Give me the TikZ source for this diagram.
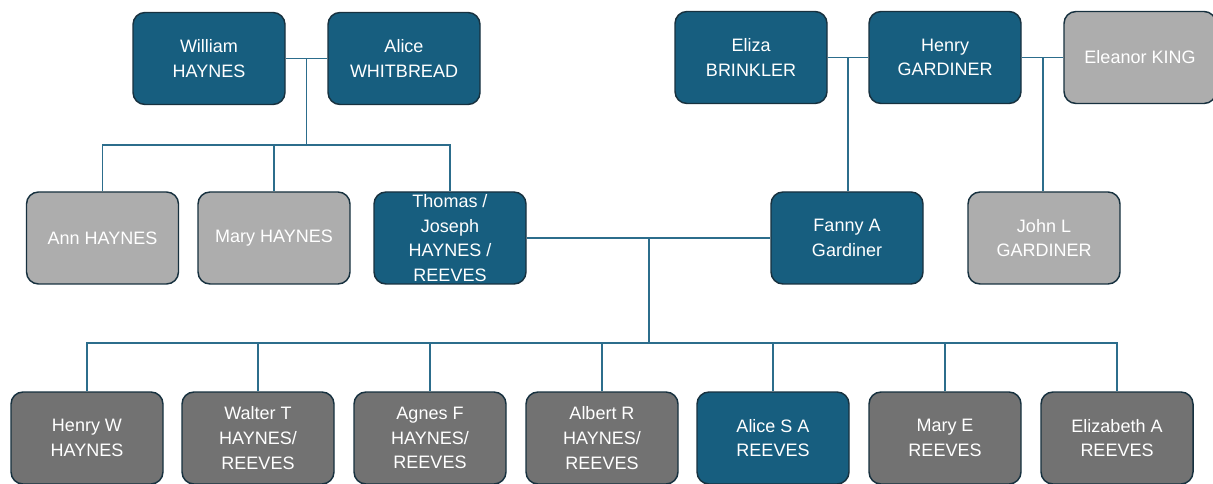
\documentclass[tikz,border=0pt]{standalone}
\usepackage{fontspec}
\setmainfont{Liberation Sans}
\definecolor{famblue}{HTML}{175E7F}
\definecolor{famlight}{HTML}{ADADAD}
\definecolor{famdark}{HTML}{727272}
\definecolor{famedge}{HTML}{17313F}
\definecolor{famline}{HTML}{2C6D8C}
\begin{document}
\begin{tikzpicture}[x=0.75pt,y=-0.75pt,
  person/.style={draw=famedge,line width=1.1pt,rounded corners=9pt,
    minimum width=114pt,minimum height=69pt,inner sep=0pt,align=center,
    text=white,font=\fontsize{13.5}{18.5}\selectfont},
  main/.style={person,fill=famblue},
  other/.style={person,fill=famlight},
  child/.style={person,fill=famdark},
  link/.style={draw=famline,line width=1.3pt}]
  \useasboundingbox (0,0) rectangle (1213,484);
  % parents
  \node[main] (william) at (209,58.5) {William\\HAYNES};
  \node[main] (alice) at (404,58.5) {Alice\\WHITBREAD};
  \node[main] (eliza) at (751,57.5) {Eliza\\BRINKLER};
  \node[main] (henry) at (945,57.5) {Henry\\GARDINER};
  \node[other] (eleanor) at (1140,57.5) {Eleanor KING};
  % middle row
  \node[other] (ann) at (102.5,238) {Ann HAYNES};
  \node[other] (mary) at (274,238) {Mary HAYNES};
  \node[main] (thomas) at (450,238) {Thomas /\\Joseph\\HAYNES /\\REEVES};
  \node[main] (fanny) at (847,238) {Fanny A\\Gardiner};
  \node[other] (john) at (1044,238) {John L\\GARDINER};
  % children
  \node[child] (henryw) at (87,438) {Henry W\\HAYNES};
  \node[child] (walter) at (258,438) {Walter T\\HAYNES/\\REEVES};
  \node[child] (agnes) at (430,438) {Agnes F\\HAYNES/\\REEVES};
  \node[child] (albert) at (602,438) {Albert R\\HAYNES/\\REEVES};
  \node[main] (alicesa) at (773,438) {Alice S A\\REEVES};
  \node[child] (marye) at (945,438) {Mary E\\REEVES};
  \node[child] (elizabeth) at (1117,438) {Elizabeth A\\REEVES};
  % marriages
  \coordinate (wa) at (306.5,58.5);
  \coordinate (wabus) at (306.5,145);
  \coordinate (eh) at (848,57.5);
  \coordinate (he) at (1043,57.5);
  \coordinate (tf) at (649,238);
  \coordinate (tfbus) at (649,343);
  \draw[link] (william) -- (alice);
  \draw[link] (eliza) -- (henry);
  \draw[link] (henry) -- (eleanor);
  \draw[link] (thomas) -- (fanny);
  % descent
  \draw[link] (wa) -- (wabus);
  \draw[link] (ann.north) |- (wabus) -| (thomas.north);
  \draw[link] (mary.north) -- (mary.north |- wabus);
  \draw[link] (eh) -- (eh |- fanny.north);
  \draw[link] (he) -- (he |- john.north);
  \draw[link] (tf) -- (tfbus);
  \draw[link] (henryw.north) |- (tfbus) -| (elizabeth.north);
  \foreach \kid in {walter,agnes,albert,alicesa,marye}
    \draw[link] (\kid.north) -- (\kid.north |- tfbus);
\end{tikzpicture}
\end{document}
